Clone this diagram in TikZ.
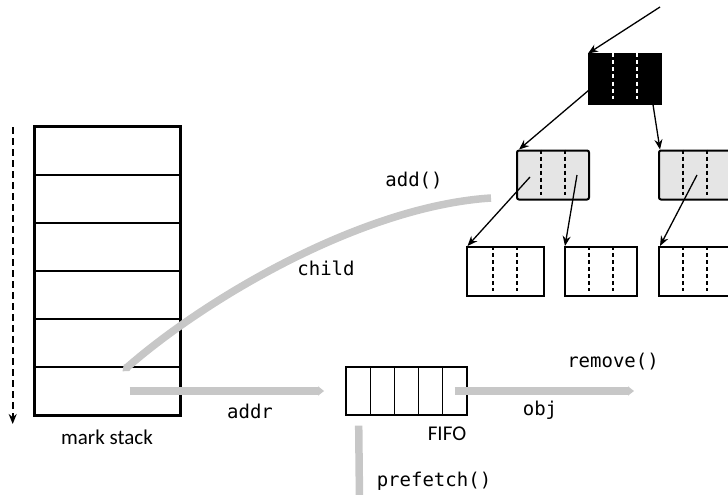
\documentclass[tikz,border=0pt]{standalone}
\usepackage{fontspec}
\setsansfont{Carlito}
\setmonofont{DejaVu Sans Mono}
\usetikzlibrary{arrows.meta}
\begin{document}
\begin{tikzpicture}[x=1pt, y=-1pt,
  stackcell/.style = {draw, line width=1.3pt, minimum width=145pt, minimum height=48pt, inner sep=0pt},
  fifocell/.style = {draw, line width=1.2pt, minimum width=24pt, minimum height=48pt, inner sep=0pt},
  treenode/.style = {draw, line width=2pt, minimum width=72pt, minimum height=49pt, inner sep=0pt},
  graynode/.style = {treenode, fill=black!10, rounded corners=2pt},
  blacknode/.style = {treenode, fill=black},
  slotline/.style = {dash pattern=on 4pt off 3pt, line width=1.7pt},
  ptr/.style = {-{Stealth[length=10pt, width=8pt]}, line width=1.3pt},
  flow/.style = {-{Triangle[length=6pt, width=9pt]}, line width=7.5pt, color=black!22},
  monolabel/.style = {font=\ttfamily\fontsize{19}{22}\selectfont},
  sanslabel/.style = {font=\sffamily\fontsize{21}{24}\selectfont}]
  \useasboundingbox (0,0) rectangle (728,495);
  \clip (0,0) rectangle (728,495);

  % mark stack
  \foreach \i in {1,...,6}
    \node[stackcell] (s\i) at (107.5, 103+48*\i) {};
  \draw[line width=2.3pt] (s1.north west) rectangle (s6.south east);
  \node[sanslabel] (stacklabel) at (107,437) {mark stack};
  \coordinate (dtop) at (12.7,127);
  \coordinate (dbot) at (12.7,424);
  \draw[ptr, dash pattern=on 7pt off 4pt, line width=1.6pt] (dtop) -- (dbot);

  % FIFO
  \foreach \i in {1,...,5}
    \node[fifocell] (f\i) at (334.7+24*\i, 391) {};
  \draw[line width=1.5pt] (f1.north west) rectangle (f5.south east);
  \node[sanslabel] (fifolabel) at (447,434) {FIFO};

  % tree
  \node[blacknode] (root) at (625,79) {};
  \node[graynode] (midL) at (553,175) {};
  \node[graynode] (midR) at (695,175) {};
  \node[treenode, minimum width=77pt] (botL) at (505,271.5) {};
  \node[treenode] (botM) at (601,271.5) {};
  \node[treenode] (botR) at (695,271.5) {};
  \foreach \n in {midL,midR,botL,botM,botR}
    \foreach \s in {-12,12}
      \draw[slotline] ([xshift=\s pt]\n.north) -- ([xshift=\s pt, yshift=6pt]\n.south);
  \foreach \s in {-12,12}
    \draw[slotline, white] ([xshift=\s pt]root.north) -- ([xshift=\s pt, yshift=6pt]root.south);

  \coordinate (entry) at (660,7);
  \draw[ptr] (entry) -- (root.north west);
  \draw[ptr] ([xshift=-23pt]root.center) -- ([xshift=3pt]midL.north west);
  \draw[ptr] ([xshift=24pt]root.center) -- ([xshift=2pt]midR.north west);
  \draw[ptr] ([xshift=-23pt, yshift=-2pt]midL.center) -- ([xshift=2pt]botL.north west);
  \draw[ptr] ([xshift=24pt]midL.center) -- ([xshift=1pt]botM.north west);
  \draw[ptr] ([xshift=2pt]midR.center) -- ([xshift=2pt]botR.north west);

  % gray flows
  \coordinate (addfrom) at (491,198);
  \coordinate (addto) at ([xshift=15pt, yshift=-5pt]s6.north);
  \draw[flow] (addfrom) .. controls (365,206) and (210,295) .. (addto);
  \node[monolabel] (addlabel) at (414,181) {add()};
  \node[monolabel] (childlabel) at (326,268) {child};

  \draw[flow] ([xshift=22pt]s6.center) -- ([xshift=-22pt]f1.west);
  \node[monolabel] (addrlabel) at (250,411) {addr};

  \coordinate (objto) at (634,391);
  \draw[flow] (f5.center) -- (objto);
  \node[monolabel] (objlabel) at (540,410) {obj};
  \node[monolabel] (removelabel) at (613,362) {remove()};

  \coordinate (fetchto) at (359.5,500);
  \draw[flow, -] ([yshift=-10pt]f1.south) -- (fetchto);
  \node[monolabel] (prefetchlabel) at (434,481) {prefetch()};
\end{tikzpicture}
\end{document}
